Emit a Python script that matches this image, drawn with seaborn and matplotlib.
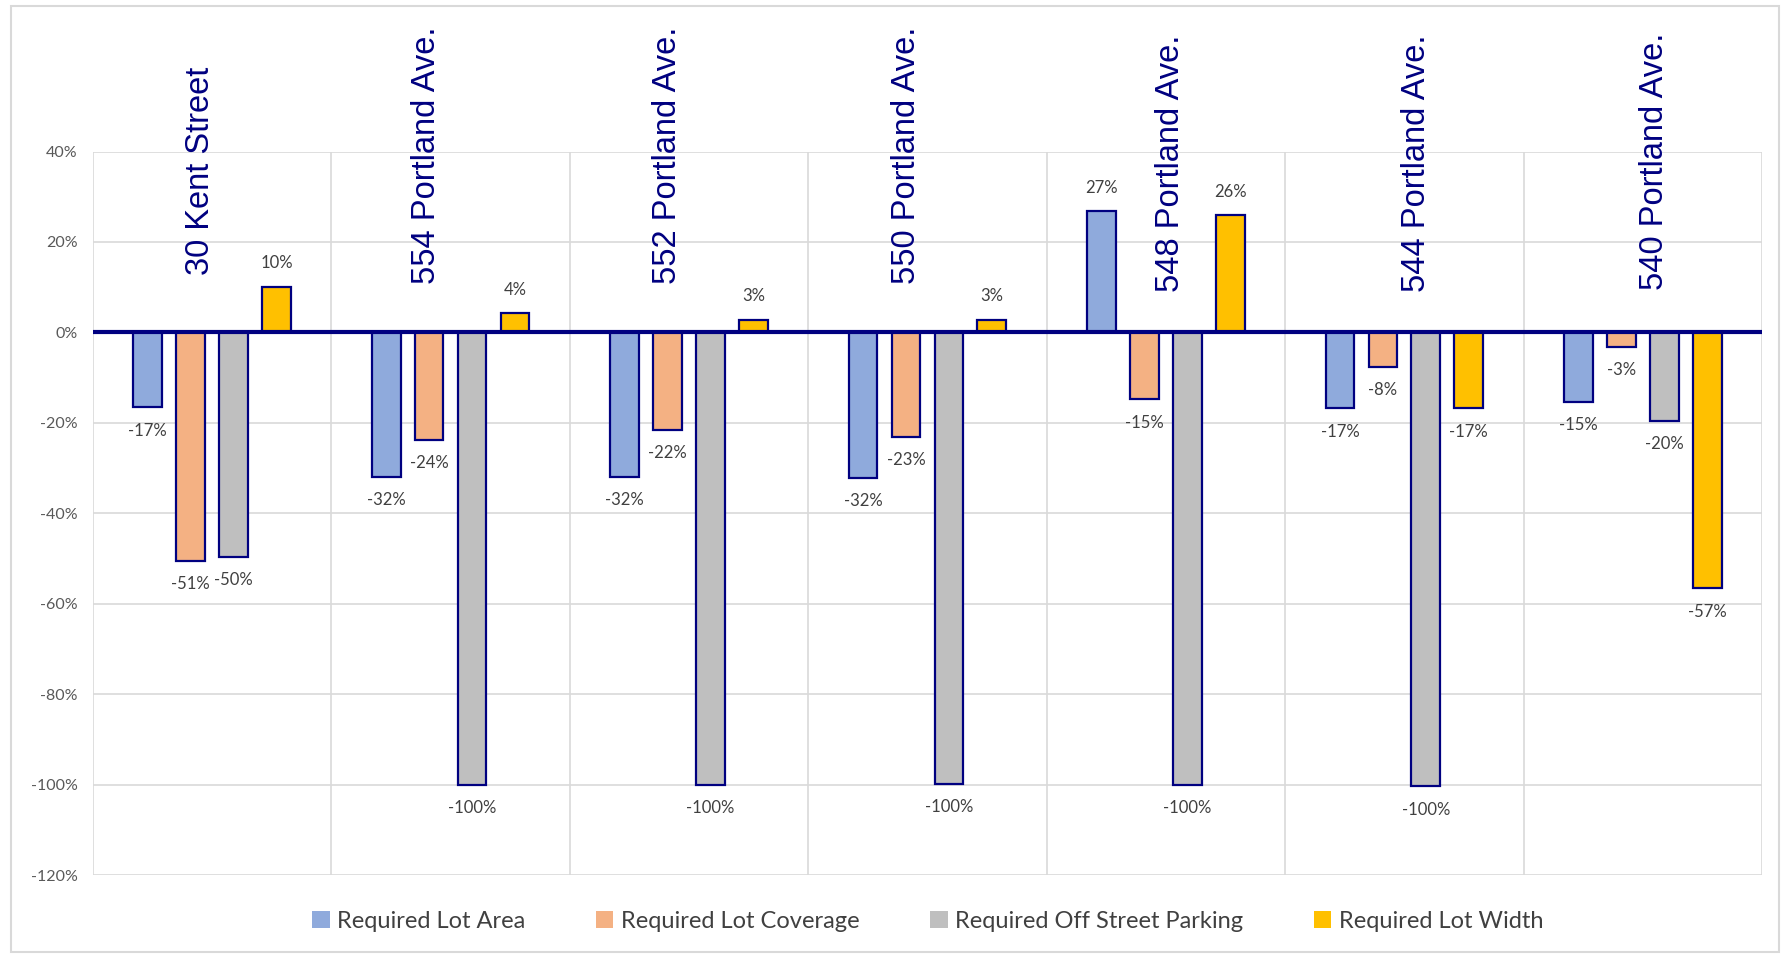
import matplotlib
matplotlib.use("Agg")
import matplotlib.pyplot as plt
import matplotlib.patches as mpatches
import numpy as np
import pandas as pd
import seaborn as sns

# data
sites = ["30 Kent Street", "554 Portland Ave.", "552 Portland Ave.", "550 Portland Ave.",
         "548 Portland Ave.", "544 Portland Ave.", "540 Portland Ave."]
metrics = ["Required Lot Area", "Required Lot Coverage",
           "Required Off Street Parking", "Required Lot Width"]
lot_area = [-16.6, -32.0, -32.0, -32.2, 26.8, -16.8, -15.3]
lot_coverage = [-50.6, -23.8, -21.6, -23.1, -14.8, -7.6, -3.2]
off_street_parking = [-49.7, -100.0, -100.0, -99.8, -100.0, -100.4, -19.6]
lot_width = [10.1, 4.2, 2.8, 2.8, 25.9, -16.8, -56.6]

colors = ["#8FAADC", "#F4B183", "#BFBFBF", "#FFC000"]
navy = "#000080"

df = pd.DataFrame({"site": sites * 4,
                   "metric": np.repeat(metrics, len(sites)),
                   "value": lot_area + lot_coverage + off_street_parking + lot_width})

sns.set_style("white")
plt.rcParams["font.family"] = ["Lato", "DejaVu Sans"]

fig = plt.figure(figsize=(17.86, 9.56), dpi=100)
ax = fig.add_axes([0.052, 0.0847, 0.9346, 0.7568])

sns.barplot(data=df, x="site", y="value", hue="metric", order=sites, hue_order=metrics,
            palette=colors, width=0.72, gap=0.33, edgecolor=navy, linewidth=1.6,
            saturation=1, ax=ax, zorder=3)

# value labels
for cont in ax.containers:
    ax.bar_label(cont, fmt=lambda v: f"{v:.0f}%", padding=11, fontsize=12, color="#404040")

ax.set_ylim(-120, 40)
ax.set_xlim(-0.5, len(sites) - 0.5)
ax.set_yticks(np.arange(-120, 41, 20))
ax.yaxis.set_major_formatter(matplotlib.ticker.FuncFormatter(lambda v, p: f"{v:.0f}%"))
ax.tick_params(axis="y", labelsize=11.5, labelcolor="#595959", length=0, pad=11)
ax.set_xticks([])
ax.set_xlabel("")
ax.set_ylabel("")

# grid: horizontal lines and group separators
for yv in np.arange(-120, 41, 20):
    ax.axhline(yv, color="#D9D9D9", lw=1.2, zorder=0)
for xv in np.arange(-0.5, len(sites), 1.0):
    ax.axvline(xv, color="#D9D9D9", lw=1.2, zorder=0)
for s in ax.spines.values():
    s.set_visible(False)
ax.axhline(0, color=navy, lw=3, zorder=4)

# site names, rotated, above the zero line
name_dx = [-0.05, -0.1, -0.09, -0.09, 0.02, 0.05, 0.05]
name_y = [12.8, 10.8, 10.8, 10.8, 8.9, 8.9, 9.3]
for i, name in enumerate(sites):
    ax.text(i + name_dx[i], name_y[i], name, rotation=90, ha="center", va="bottom",
            fontsize=23.5, color=navy, family=["Liberation Sans", "DejaVu Sans"],
            zorder=5, clip_on=False)

leg = ax.legend(loc="upper center", bbox_to_anchor=(0.5, -0.02), ncol=4, frameon=False,
                fontsize=17, handlelength=0.75, handleheight=0.75, handletextpad=0.3,
                columnspacing=3.0, labelcolor="#404040")
for h in leg.legend_handles:
    h.set_edgecolor("none")

fig.patches.append(mpatches.Rectangle((0.006, 0.004), 0.99, 0.99, transform=fig.transFigure,
                                      fill=False, edgecolor="#D9D9D9", lw=1.5))

fig.savefig("out.png", dpi=100, facecolor="white")
